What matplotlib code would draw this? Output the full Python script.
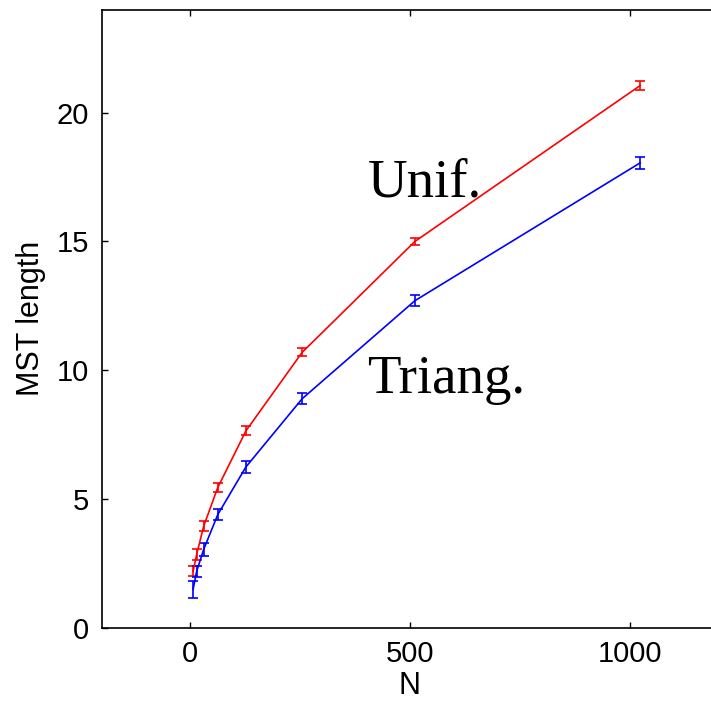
# MST length vs N, uniform vs triangular distribution
import matplotlib
matplotlib.use('Agg')
import matplotlib.pyplot as plt

# datos
N = [8, 16, 32, 64, 128, 256, 512, 1024]
unif = [2.2, 2.85, 3.95, 5.45, 7.65, 10.7, 15.0, 21.05]
unif_err = [0.2, 0.2, 0.2, 0.18, 0.18, 0.15, 0.15, 0.18]
triang = [1.5, 2.2, 3.05, 4.4, 6.25, 8.9, 12.7, 18.05]
triang_err = [0.33, 0.22, 0.25, 0.22, 0.22, 0.2, 0.22, 0.22]

plt.rcParams['font.family'] = ['Liberation Sans', 'DejaVu Sans']

fig = plt.figure(figsize=(7.11, 7.06), dpi=100)
# el eje derecho queda justo fuera de la imagen, como en el original
ax = fig.add_axes([0.1429, 0.1105, 0.8664, 0.876])

ax.errorbar(N, unif, yerr=unif_err, color='red', lw=1.2, elinewidth=1.2, capsize=3.5, capthick=1.2)
ax.errorbar(N, triang, yerr=triang_err, color='blue', lw=1.2, elinewidth=1.2, capsize=3.5, capthick=1.2)

ax.text(405, 16.75, 'Unif.', family='Liberation Serif', fontsize=39.5)
ax.text(403, 9.13, 'Triang.', family='Liberation Serif', fontsize=39.5)

ax.set_xlim(-200, 1200)
ax.set_ylim(0, 24)
ax.set_xticks([0, 500, 1000])
ax.set_yticks([0, 5, 10, 15, 20])
ax.tick_params(direction='in', length=4.5, width=1, labelsize=21, top=True, right=False, pad=9)
for s in ax.spines.values():
    s.set_linewidth(1.2)
ax.set_xlabel('N', fontsize=22, labelpad=2)
ax.set_ylabel('MST length', fontsize=22, labelpad=8)

fig.savefig('out.png', dpi=100)
